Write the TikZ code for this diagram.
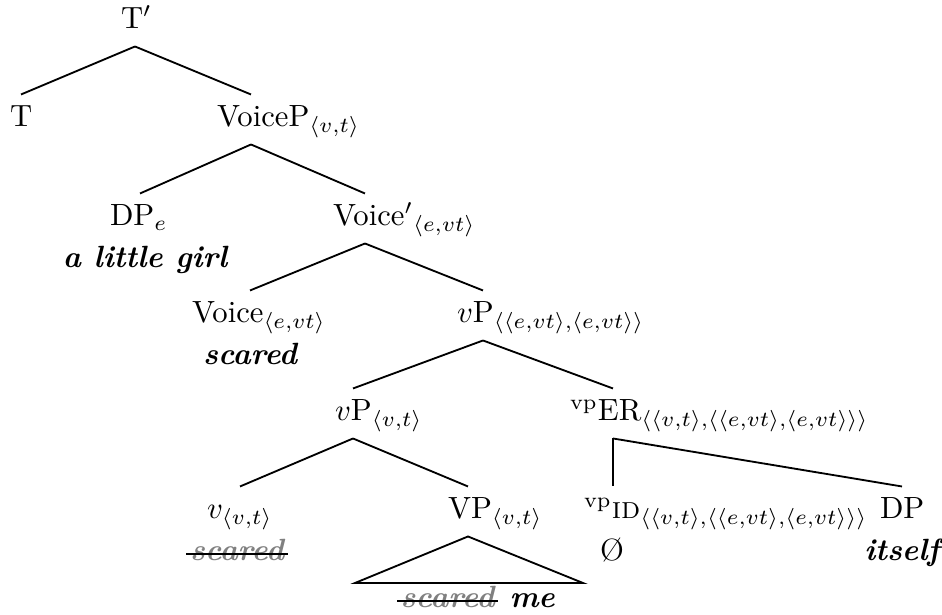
\documentclass[tikz,border=0pt]{standalone}
\usetikzlibrary{calc}
\newlength\pxu \setlength\pxu{0.326pt}
\newcommand\lab[2]{\makebox[0pt][l]{\hspace*{#1\pxu}#2}}
\newcommand\ang[1]{\langle #1\rangle}
\tikzset{
  cat/.style={anchor=base, inner xsep=0pt, inner ysep=2.5pt, text height=7.9pt, text depth=3pt},
  word/.style={anchor=base, inner sep=0pt, font=\bfseries\itshape},
  gone/.style={word, text=gray, inner xsep=1pt},
  branch/.style={line width=0.6pt},
  strk/.style={line width=0.9pt, black},
}
\begin{document}
\begin{tikzpicture}[x=0.326pt, y=-0.326pt]
\useasboundingbox (0,0) rectangle (942,615);
% labels
\node[cat] (Tp) at (135,29) {\lab{-14}{T$'$}};
\node[cat] (T) at (21,127) {\lab{-11}{T}};
\node[cat] (VoiceP) at (251,127) {\lab{-34}{VoiceP$_{\ang{v,t}}$}};
\node[cat] (DPe) at (140,226) {\lab{-30}{DP$_e$}};
\node[word] (girl) at (145,268) {a little girl};
\node[cat] (Voicebar) at (365,226) {\lab{-32}{Voice$'{}_{\ang{e,vt}}$}};
\node[cat] (Voice) at (250,323) {\lab{-58}{Voice$_{\ang{e,vt}}$}};
\node[word] (scared) at (250,365) {scared};
\node[cat] (vPbig) at (483,323) {\lab{-26}{$v$P$_{\ang{\ang{e,vt},\ang{e,vt}}}$}};
\node[cat] (vPsm) at (353,421) {\lab{-18}{$v$P$_{\ang{v,t}}$}};
\node[cat] (ER) at (613,421) {\lab{-43}{${}^{\mathrm{vp}}$ER$_{\ang{\ang{v,t},\ang{\ang{e,vt},\ang{e,vt}}}}$}};
\node[cat] (v) at (240,519) {\lab{-33}{$v_{\ang{v,t}}$}};
\node[gone] (vscared) at (237,561) {scared};
\node[cat] (VP) at (468,519) {\lab{-20}{VP$_{\ang{v,t}}$}};
\node[cat] (ID) at (613,519) {\lab{-29}{${}^{\mathrm{vp}}$\textsc{id}$_{\ang{\ang{v,t},\ang{\ang{e,vt},\ang{e,vt}}}}$}};
\node[anchor=base, inner sep=0pt] (null) at (612,561) {\O};
\node[cat] (DPr) at (902,519) {\lab{-22}{DP}};
\node[word] (itself) at (902,561) {itself};
\coordinate (rl) at (355,583);
\coordinate (rr) at (583,583);
\node[gone, anchor=base west] (sm1) at (397,608) {scared};
\node[word, anchor=base west] (sm2) at ($(sm1.base east)+(3.5pt,0)$) {me};
% branches
\draw[branch] (Tp.south) -- (T.north);
\draw[branch] (Tp.south) -- (VoiceP.north);
\draw[branch] (VoiceP.south) -- (DPe.north);
\draw[branch] (VoiceP.south) -- (Voicebar.north);
\draw[branch] (Voicebar.south) -- (Voice.north);
\draw[branch] (Voicebar.south) -- (vPbig.north);
\draw[branch] (vPbig.south) -- (vPsm.north);
\draw[branch] (vPbig.south) -- (ER.north);
\draw[branch] (vPsm.south) -- (v.north);
\draw[branch] (vPsm.south) -- (VP.north);
\draw[branch] (ER.south) -- (ID.north);
\draw[branch] (ER.south) -- (DPr.north);
\draw[branch] (VP.south) -- (rl) -- (rr) -- cycle;
% strike-outs
\draw[strk] ($(vscared.base west)+(0,2.3pt)$) -- ($(vscared.base east)+(0,2.3pt)$);
\draw[strk] ($(sm1.base west)+(0,2.3pt)$) -- ($(sm1.base east)+(0,2.3pt)$);
\end{tikzpicture}
\end{document}
